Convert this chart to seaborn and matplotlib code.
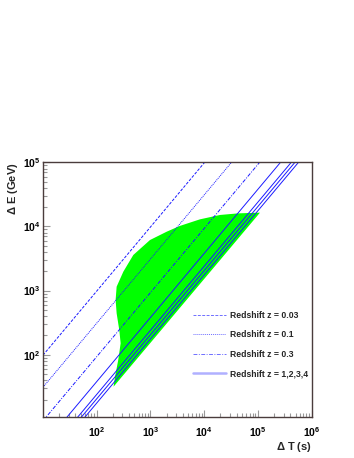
import numpy as np
import pandas as pd
import matplotlib
matplotlib.use("Agg")
import matplotlib.pyplot as plt
import seaborn as sns

# allowed region (green band)
region_T = [206, 1.09e5, 43000, 19700, 8320, 3540, 2005, 980, 480, 313, 235, 225, 235, 263, 279, 252, 219, 206]
region_E = [31.7, 16400, 16000, 15100, 12900, 10200, 8280, 6140, 3590, 1970, 1150, 713, 442, 243, 151, 83, 45, 31.7]

# redshift lines: dE = ratio * dT
z_labels = ["Redshift z = 0.03", "Redshift z = 0.1", "Redshift z = 0.3", "Redshift z = 1,2,3,4"]
z_ratios = [[9.8], [3.1], [0.93], [0.38, 0.24, 0.205, 0.176]]
z_styles = [(0, (3, 1.5)), (0, (1, 1)), (0, (4, 1.5, 1, 1.5)), "-"]

T_range = [10, 1e6]

sns.set_style("white")
plt.rcParams["font.family"] = ["Liberation Sans", "DejaVu Sans"]
plt.rcParams["mathtext.fontset"] = "custom"
plt.rcParams["mathtext.bf"] = "Liberation Sans:bold"
plt.rcParams["mathtext.rm"] = "Liberation Sans:bold"

fig = plt.figure(figsize=(3.54, 4.58), dpi=100)
ax = fig.add_axes([0.1213, 0.0902, 0.7592, 0.5554])

ax.fill(region_T, region_E, color="#00ff00", lw=0, zorder=1)

for lab, ratios, ls in zip(z_labels, z_ratios, z_styles):
    for i, k in enumerate(ratios):
        d = pd.DataFrame({"T": T_range, "E": [k * t for t in T_range]})
        sns.lineplot(data=d, x="T", y="E", ax=ax, color="#1a1aff", lw=0.7,
                     linestyle=ls, label=lab if i == 0 else None, zorder=2)

ax.set_xscale("log")
ax.set_yscale("log")
ax.set_xlim(10, 1e6)
ax.set_ylim(10.8, 1e5)

ax.set_xticks([1e2, 1e3, 1e4, 1e5, 1e6])
ax.set_xticklabels([r"$\mathbf{10^{%d}}$" % p for p in range(2, 7)])
ax.set_yticks([1e2, 1e3, 1e4, 1e5])
ax.set_yticklabels([r"$\mathbf{10^{%d}}$" % p for p in range(2, 6)])
ax.xaxis.set_minor_locator(matplotlib.ticker.LogLocator(base=10, subs=np.arange(2, 10), numticks=20))
ax.yaxis.set_minor_locator(matplotlib.ticker.LogLocator(base=10, subs=np.arange(2, 10), numticks=20))
ax.xaxis.set_minor_formatter(matplotlib.ticker.NullFormatter())
ax.yaxis.set_minor_formatter(matplotlib.ticker.NullFormatter())

ax.tick_params(which="both", direction="in", colors="#999999", labelcolor="black",
               labelsize=7.5, bottom=True, left=True, top=False, right=False)
ax.tick_params(which="major", length=5, width=0.8)
ax.tick_params(which="minor", length=3, width=0.8)
ax.tick_params(axis="x", pad=6)
ax.tick_params(axis="y", pad=1.5)

for s in ax.spines.values():
    s.set_color("#4a3c3c")
    s.set_linewidth(1)

ax.set_xlabel(r"$\Delta$ T (s)", fontsize=8, fontweight="bold", loc="right", labelpad=1)
ax.set_ylabel(r"$\Delta$ E (GeV)", fontsize=8, fontweight="bold", loc="top", labelpad=2)

leg = ax.legend(loc="center left", bbox_to_anchor=(0.545, 0.2478), bbox_transform=fig.transFigure,
                frameon=False, fontsize=6.2, handlelength=3.8, handletextpad=0.45,
                labelspacing=1.2, borderpad=0, borderaxespad=0)
for t in leg.get_texts():
    t.set_fontweight("bold")
for h, ls in zip(leg.legend_handles, z_styles):
    h.set_color("#6f6fff")
    h.set_linestyle(ls)
leg.legend_handles[-1].set_color("#b0b0ff")
leg.legend_handles[-1].set_linewidth(1.8)

fig.savefig("out.png", dpi=100)
